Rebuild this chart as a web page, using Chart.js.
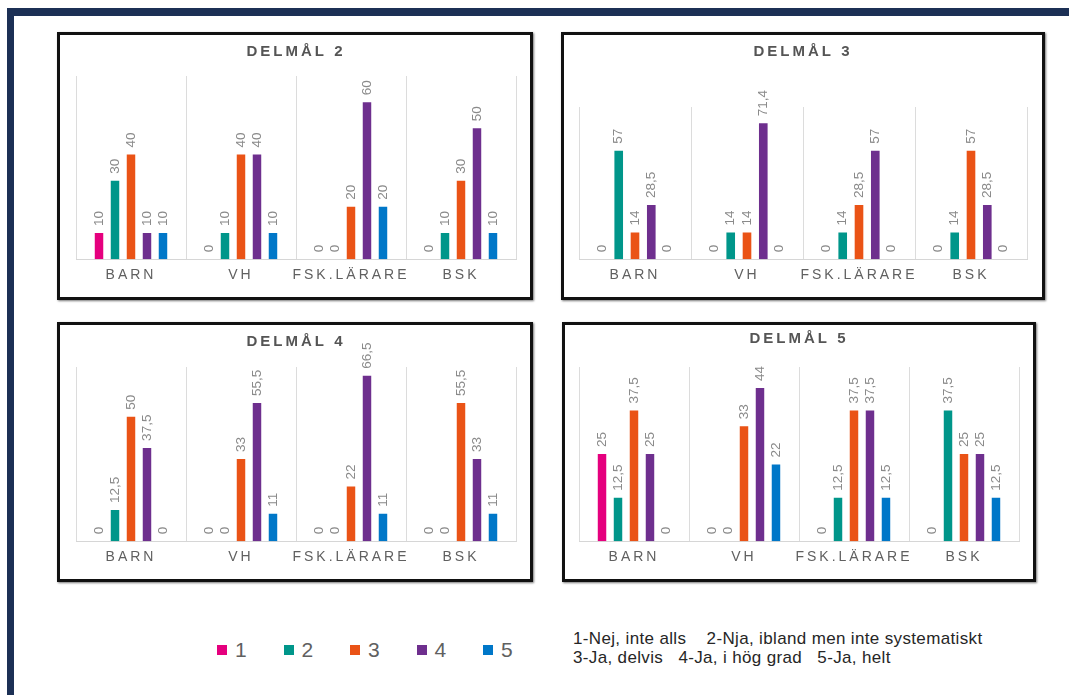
<!DOCTYPE html>
<html>
<head>
<meta charset="utf-8">
<script src="https://cdn.jsdelivr.net/npm/chart.js@4.4.1/dist/chart.umd.min.js"></script>
<style>
  body { margin: 0; width: 1069px; height: 695px; overflow: hidden; background: #fff; position: relative; font-family: "Liberation Sans", Arial, sans-serif; }
  .frame { position: absolute; left: 7px; top: 8px; width: 2000px; height: 2000px; border-top: 8px solid #1c3055; border-left: 7px solid #1c3055; }
  .panel { position: absolute; box-sizing: border-box; border: 3px solid #111; box-shadow: 1px 1px 2px #777; background: #fff; }
  .panel canvas { display: block; }
  .lg-box { position: absolute; width: 10px; height: 10px; top: 645px; }
  .lg-txt { position: absolute; top: 637px; font-size: 21px; line-height: 26px; color: #606060; }
  .key { position: absolute; left: 573px; top: 629px; font-size: 17px; line-height: 19px; letter-spacing: 0.35px; color: #262626; white-space: pre; }
</style>
</head>
<body>
<div class="frame"></div>

<div class="panel" style="left:57px; top:32px; width:476px; height:268px;"><canvas id="c2" width="470" height="262"></canvas></div>
<div class="panel" style="left:561px; top:32px; width:484px; height:268px;"><canvas id="c3" width="478" height="262"></canvas></div>
<div class="panel" style="left:57px; top:322px; width:476px; height:260px;"><canvas id="c4" width="470" height="254"></canvas></div>
<div class="panel" style="left:562px; top:322px; width:474px; height:260px;"><canvas id="c5" width="468" height="254"></canvas></div>

<div id="legend"></div>
<div class="key">1-Nej, inte alls    2-Nja, ibland men inte systematiskt
3-Ja, delvis   4-Ja, i hög grad   5-Ja, helt</div>

<script>
// data
const categories = ['BARN', 'VH', 'FSK.LÄRARE', 'BSK'];
const seriesNames = ['1', '2', '3', '4', '5'];

// one row per answer 1..5, one value per category
const delmal2 = [
    [10, 0, 0, 0],
    [30, 10, 0, 10],
    [40, 40, 20, 30],
    [10, 40, 60, 50],
    [10, 10, 20, 10]
];
const delmal3 = [
    [0, 0, 0, 0],
    [57, 14, 14, 14],
    [14, 14, 28.5, 57],
    [28.5, 71.4, 57, 28.5],
    [0, 0, 0, 0]
];
const delmal4 = [
    [0, 0, 0, 0],
    [12.5, 0, 0, 0],
    [50, 33, 22, 55.5],
    [37.5, 55.5, 66.5, 33],
    [0, 11, 11, 11]
];
const delmal5 = [
    [25, 0, 0, 0],
    [12.5, 0, 12.5, 37.5],
    [37.5, 33, 37.5, 25],
    [25, 44, 37.5, 25],
    [0, 22, 12.5, 12.5]
];

const colors = ['#e5007e', '#00968a', '#ea5316', '#6e2f8e', '#0077c8'];
const FONT = '"Liberation Sans", Arial, sans-serif';

// letter spacing for title + axis labels, none for the value labels
const spacing = {
    id: 'spacing',
    beforeDraw(chart) { chart.ctx.letterSpacing = '3px'; },
    beforeDatasetsDraw(chart) { chart.ctx.letterSpacing = '0px'; }
};

const valueLabels = {
    id: 'valueLabels',
    afterDatasetsDraw(chart) {
        const ctx = chart.ctx;
        chart.data.datasets.forEach((ds, i) => {
            chart.getDatasetMeta(i).data.forEach((bar, j) => {
                ctx.save();
                ctx.translate(bar.x, bar.y - 7);
                ctx.rotate(-Math.PI / 2);
                ctx.font = '13.5px ' + FONT;
                ctx.fillStyle = '#8a8a8a';
                ctx.textAlign = 'left';
                ctx.textBaseline = 'middle';
                ctx.fillText(String(ds.data[j]).replace('.', ','), 0, 0);
                ctx.restore();
            });
        });
    }
};

const makeChart = (id, title, values, max, pad) => {
    new Chart(document.getElementById(id), {
        type: 'bar',
        data: {
            labels: categories,
            datasets: seriesNames.map((name, i) => ({
                label: name,
                data: values[i],
                backgroundColor: colors[i],
                categoryPercentage: 0.727,
                barPercentage: 0.53
            }))
        },
        options: {
            responsive: false,
            animation: false,
            devicePixelRatio: 1,
            layout: { padding: { left: pad.left, right: pad.right, top: 0, bottom: 5 } },
            plugins: {
                legend: { display: false },
                tooltip: { enabled: false },
                title: {
                    display: true,
                    text: title,
                    color: '#555',
                    font: { family: FONT, size: 15, weight: 'bold' },
                    padding: { top: pad.titleTop, bottom: pad.titleBottom }
                }
            },
            scales: {
                x: {
                    grid: { color: '#dcdcdc', drawTicks: false, offset: true },
                    border: { color: '#d6d6d6' },
                    ticks: { color: '#606060', font: { family: FONT, size: 14 }, padding: 8, maxRotation: 0, autoSkip: false }
                },
                y: { display: false, min: 0, max: max }
            }
        },
        plugins: [spacing, valueLabels]
    });
}

makeChart('c2', 'DELMÅL 2', delmal2, 70, { left: 16, right: 14, titleTop: 8, titleBottom: 15 });
makeChart('c3', 'DELMÅL 3', delmal3, 80, { left: 15, right: 15, titleTop: 8, titleBottom: 46 });
makeChart('c4', 'DELMÅL 4', delmal4, 70, { left: 16, right: 14, titleTop: 8, titleBottom: 16 });
makeChart('c5', 'DELMÅL 5', delmal5, 50, { left: 14, right: 14, titleTop: 5, titleBottom: 19 });

// legend
const legend = document.getElementById('legend');
seriesNames.forEach((name, i) => {
    const box = document.createElement('div');
    box.className = 'lg-box';
    box.style.left = (217 + i * 66.5) + 'px';
    box.style.background = colors[i];
    legend.appendChild(box);
    const txt = document.createElement('div');
    txt.className = 'lg-txt';
    txt.style.left = (235 + i * 66.5) + 'px';
    txt.textContent = name;
    legend.appendChild(txt);
});
</script>
</body>
</html>
